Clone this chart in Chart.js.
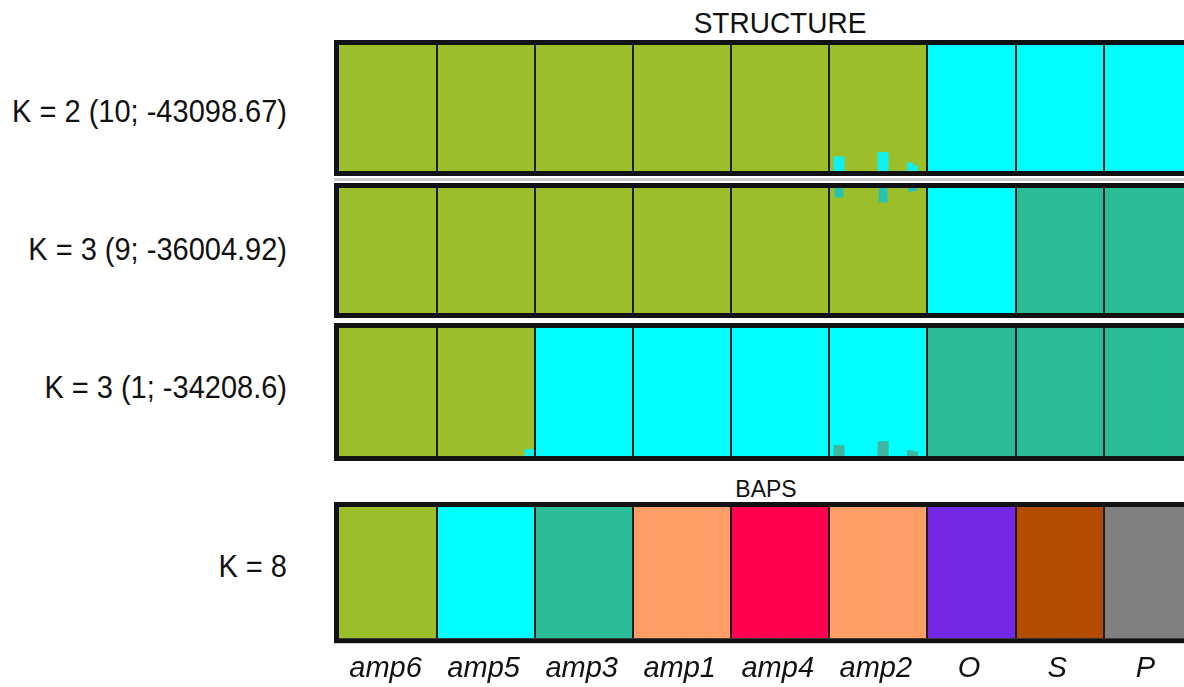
<!DOCTYPE html>
<html>
<head>
<meta charset="utf-8">
<script src="https://cdn.jsdelivr.net/npm/chart.js@4"></script>
<style>
  html, body { margin: 0; padding: 0; background: #fff; }
  body { width: 1184px; height: 687px; overflow: hidden; position: relative; font-family: 'Liberation Sans', Arial, sans-serif; color: #111; }
  .panel { position: absolute; left: 334px; width: 863px; }
  .lbl { position: absolute; right: 897px; font-size: 29px; white-space: nowrap; transform: translateY(-50%) scaleY(1.1); line-height: 1; }
  .ttl { position: absolute; white-space: nowrap; transform: translate(-50%, -50%) scaleY(1.05); line-height: 1; }
  .sep { position: absolute; left: 334px; width: 860px; top: 178px; height: 3px; background: #cfcfcf; }
</style>
</head>
<body>
<div class="ttl" style="left:780px; top:24px; font-size:28px;">STRUCTURE</div>
<div class="ttl" style="left:766px; top:489px; font-size:23px;">BAPS</div>
<div class="lbl" style="top:112px;">K = 2 (10; -43098.67)</div>
<div class="lbl" style="top:250px;">K = 3 (9; -36004.92)</div>
<div class="lbl" style="top:388px;">K = 3 (1; -34208.6)</div>
<div class="lbl" style="top:567px;">K = 8</div>
<div class="sep"></div>
<div class="panel" style="top:40px; height:136px;"><canvas id="c1"></canvas></div>
<div class="panel" style="top:183px; height:135px;"><canvas id="c2"></canvas></div>
<div class="panel" style="top:323px; height:138px;"><canvas id="c3"></canvas></div>
<div class="panel" style="top:502px; height:197px;"><canvas id="c4"></canvas></div>
<script>
// ---- data ----
const populations = ['amp6', 'amp5', 'amp3', 'amp1', 'amp4', 'amp2', 'O', 'S', 'P'];
const popSizes = [20, 20, 20, 20, 20, 20, 18, 18, 18];

const clusterColors = {
  green: '#9bbe2a', cyan: '#00ffff', teal: '#2abd97', salmon: '#ff9d66',
  red: '#ff0050', purple: '#7329e3', brown: '#b44c00', gray: '#808080'
};

// K = 2 (run 10): main cluster for each population
const k2Clusters = ['green', 'green', 'green', 'green', 'green', 'green', 'cyan', 'cyan', 'cyan'];
// admixture bars: [population, individual, share]
const k2Admix = [['amp2', 1, 0.11], ['amp2', 2, 0.11], ['amp2', 10, 0.145], ['amp2', 11, 0.145], ['amp2', 16, 0.065], ['amp2', 17, 0.04]];

// K = 3 (run 9)
const k3aClusters = ['green', 'green', 'green', 'green', 'green', 'green', 'cyan', 'teal', 'teal'];
const k3aAdmix = [['amp2', 1, 0.08], ['amp2', 2, 0.08], ['amp2', 10, 0.12], ['amp2', 11, 0.12], ['amp2', 16, 0.035], ['amp2', 17, 0.03]];

// K = 3 (run 1)
const k3bClusters = ['green', 'green', 'cyan', 'cyan', 'cyan', 'cyan', 'teal', 'teal', 'teal'];
const k3bAdmixCyan = [['amp5', 18, 0.05], ['amp5', 19, 0.05]];
const k3bAdmixTeal = [['amp2', 1, 0.08], ['amp2', 2, 0.08], ['amp2', 10, 0.11], ['amp2', 11, 0.11], ['amp2', 16, 0.04], ['amp2', 17, 0.03]];

// BAPS K = 8
const bapsClusters = ['green', 'cyan', 'teal', 'salmon', 'red', 'salmon', 'purple', 'brown', 'gray'];

// ---- build per-individual tables ----
const popStart = [];
let acc = 0;
popSizes.forEach(s => { popStart.push(acc); acc += s; });
const nInd = acc;
const indLabels = [];
populations.forEach((p, pi) => { for (let j = 0; j < popSizes[pi]; j++) indLabels.push(p + '_' + (j + 1)); });
const boundaries = new Set(popStart.slice(1));
const centerLabel = {};
populations.forEach((p, pi) => { centerLabel[popStart[pi] + Math.floor((popSizes[pi] - 1) / 2)] = p; });

function admixArray(list) {
  const arr = new Array(nInd).fill(null);
  list.forEach(([p, j, v]) => { arr[popStart[populations.indexOf(p)] + j] = v; });
  return arr;
}
function clusterDatasets(clusters, admixSets) {
  const taken = new Array(nInd).fill(0);
  admixSets.forEach(a => a.data.forEach((v, i) => taken[i] += (v || 0)));
  const used = [...new Set(clusters)];
  return used.map(c => {
    const data = [];
    populations.forEach((p, pi) => {
      for (let j = 0; j < popSizes[pi]; j++) {
        const i = popStart[pi] + j;
        data.push(clusters[pi] === c ? 1 - taken[i] : null);
      }
    });
    return { label: c, data, backgroundColor: clusterColors[c] };
  });
}

const borderPlugin = {
  id: 'frame',
  afterDraw(chart) {
    const a = chart.chartArea, ctx = chart.ctx;
    ctx.save();
    ctx.strokeStyle = '#111';
    ctx.lineWidth = 5;
    ctx.strokeRect(a.left - 2.5, a.top - 2.5, a.right - a.left + 5, a.bottom - a.top + 5);
    ctx.restore();
  }
};

function makeChart(id, datasets, showLabels) {
  new Chart(document.getElementById(id), {
    type: 'bar',
    data: { labels: indLabels, datasets: datasets.map(d => Object.assign({ borderWidth: 0, barPercentage: 1, categoryPercentage: 1, inflateAmount: 0.6 }, d)) },
    options: {
      responsive: true, maintainAspectRatio: false, animation: false,
      layout: { padding: { left: 5, right: 5, top: 5, bottom: showLabels ? 0 : 5 } },
      plugins: { legend: { display: false }, tooltip: { enabled: false } },
      scales: {
        x: {
          stacked: true,
          afterFit: s => { s.paddingLeft = 0; s.paddingRight = 0; },
          border: { display: false },
          grid: {
            drawTicks: false, offset: true, lineWidth: 2, z: 1,
            color: c => boundaries.has(c.index) ? '#1c1c1c' : 'rgba(0,0,0,0)'
          },
          ticks: {
            display: showLabels, autoSkip: false, maxRotation: 0, minRotation: 0, padding: 13,
            color: '#111', font: { family: "'Liberation Sans', Arial, sans-serif", size: 29, style: 'italic' },
            callback: (v, i) => centerLabel[i] || ''
          }
        },
        y: { stacked: true, display: false, min: 0, max: 1 }
      }
    },
    plugins: [borderPlugin]
  });
}

// Panel 1: K = 2
const p1Admix = { label: 'admix', data: admixArray(k2Admix), backgroundColor: '#10f0f0' };
makeChart('c1', [p1Admix, ...clusterDatasets(k2Clusters, [p1Admix])], false);

// Panel 2: K = 3 (9) - admixture hangs from the top
const p2Admix = { label: 'admix', data: admixArray(k3aAdmix), backgroundColor: '#25c3b5' };
makeChart('c2', [...clusterDatasets(k3aClusters, [p2Admix]), p2Admix], false);

// Panel 3: K = 3 (1) - admixture at the bottom
const p3Cyan = { label: 'admixCyan', data: admixArray(k3bAdmixCyan), backgroundColor: '#10f0f0' };
const p3Teal = { label: 'admixTeal', data: admixArray(k3bAdmixTeal), backgroundColor: '#3fb7a0' };
makeChart('c3', [p3Cyan, p3Teal, ...clusterDatasets(k3bClusters, [p3Cyan, p3Teal])], false);

// Panel 4: BAPS K = 8
makeChart('c4', clusterDatasets(bapsClusters, []), true);
</script>
</body>
</html>
